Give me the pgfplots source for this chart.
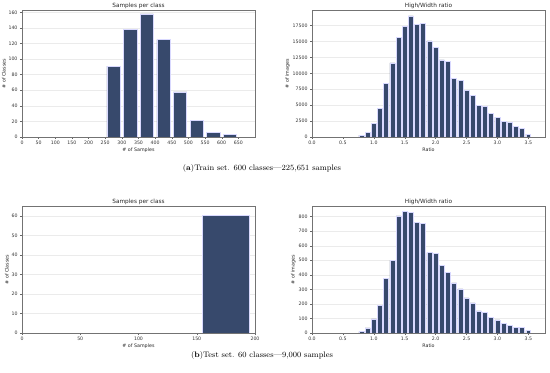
\documentclass[border=0pt]{standalone}
\usepackage{pgfplots}
\pgfplotsset{compat=1.18}
\usepackage{fontspec}
\newfontfamily\dejavu{DejaVu Sans}
\definecolor{barblue}{RGB}{55,73,108}
\pgfplotsset{
  hist/.style={
    scale only axis, width=233bp, height=127bp, anchor=south west,
    ybar, ymin=0, axis line style={black!55, line width=0.5bp},
    ymajorgrids, grid style={black!8, line width=0.4bp},
    tick align=outside, xtick pos=bottom, ytick pos=left,
    major tick length=2bp, tick style={black!60, line width=0.4bp},
    /pgf/number format/assume math mode=true,
    tick label style={font=\dejavu\fontsize{4.7}{5}\selectfont, text=black!80},
    label style={font=\dejavu\fontsize{4.8}{5}\selectfont, text=black!85},
    title style={font=\dejavu\fontsize{5.8}{6}\selectfont, text=black!85, yshift=-8bp},
    xlabel style={yshift=4bp}, ylabel style={yshift=-4bp},
    xticklabel style={yshift=1bp}, yticklabel style={xshift=1bp},
    scaled ticks=false,
  },
  mybar/.style={fill=barblue, draw=white!85!blue, line width=0.6bp},
}
\begin{document}
\begin{tikzpicture}
\path[use as bounding box] (0,0) rectangle (550bp,373bp);
% (a) left
\begin{axis}[hist, at={(22bp,236bp)}, xmin=0, xmax=700, ymax=163,
  bar width=40, xtick={0,50,...,650}, ytick={0,20,...,160},
  title={Samples per class}, xlabel={\# of Samples}, ylabel={\# of Classes}]
\addplot[mybar] coordinates {(275,91) (325,138) (375,158) (425,125) (475,58) (525,21) (575,6) (625,3)};
\end{axis}
% (a) right
\begin{axis}[hist, at={(312bp,236bp)}, xmin=0, xmax=3.77, ymax=19950,
  bar width=0.08, xtick={0,0.5,...,3.5}, ytick={0,2500,...,17500},
  xticklabel style={/pgf/number format/.cd, fixed, fixed zerofill, precision=1},
  yticklabel style={/pgf/number format/.cd, fixed, 1000 sep={}},
  title={High/Width ratio}, xlabel={Ratio}, ylabel={\# of images}]
\addplot[mybar] coordinates {(0.8,300) (0.9,780) (1.0,2190) (1.1,4440) (1.2,8360) (1.3,11650) (1.4,15620) (1.5,17350) (1.6,19020) (1.7,17710) (1.8,17820) (1.9,15100) (2.0,14050) (2.1,12120) (2.2,11910) (2.3,9250) (2.4,8930) (2.5,7260) (2.6,6480) (2.7,5020) (2.8,4750) (2.9,3660) (3.0,3130) (3.1,2510) (3.2,2250) (3.3,1620) (3.4,1310) (3.5,470)};
\end{axis}
% (b) left
\begin{axis}[hist, at={(22bp,40bp)}, xmin=0, xmax=200, ymax=65,
  bar width=40, xtick={0,50,...,200}, ytick={0,10,...,60},
  title={Samples per class}, xlabel={\# of Samples}, ylabel={\# of Classes}]
\addplot[mybar] coordinates {(175,60)};
\end{axis}
% (b) right
\begin{axis}[hist, at={(312bp,40bp)}, xmin=0, xmax=3.77, ymax=873,
  bar width=0.08, xtick={0,0.5,...,3.5}, ytick={0,100,...,800},
  xticklabel style={/pgf/number format/.cd, fixed, fixed zerofill, precision=1},
  title={High/Width ratio}, xlabel={Ratio}, ylabel={\# of images}]
\addplot[mybar] coordinates {(0.8,9) (0.9,35) (1.0,97) (1.1,191) (1.2,377) (1.3,499) (1.4,805) (1.5,834) (1.6,830) (1.7,759) (1.8,752) (1.9,552) (2.0,545) (2.1,462) (2.2,416) (2.3,345) (2.4,303) (2.5,241) (2.6,207) (2.7,152) (2.8,143) (2.9,108) (3.0,90) (3.1,67) (3.2,53) (3.3,41) (3.4,37) (3.5,16)};
\end{axis}
\node[font=\fontsize{8}{9}\selectfont] at (262bp,204bp) {(\textbf{a})Train set. 600 classes---225,651 samples};
\node[font=\fontsize{8}{9}\selectfont] at (262bp,17bp) {(\textbf{b})Test set. 60 classes---9,000 samples};
\end{tikzpicture}
\end{document}
